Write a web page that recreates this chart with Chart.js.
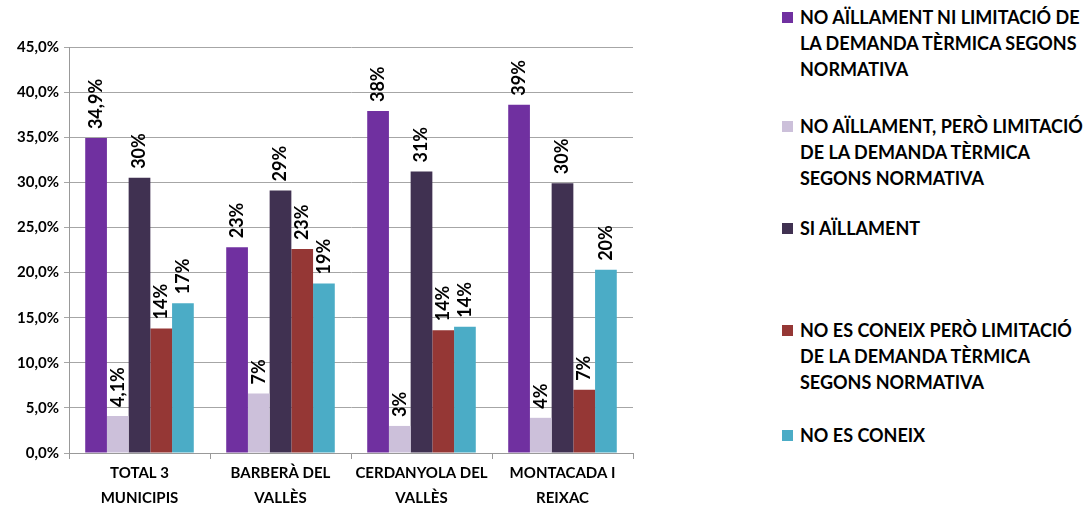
<!DOCTYPE html>
<html>
<head>
<meta charset="utf-8">
<script src="https://cdn.jsdelivr.net/npm/chart.js@4.4.0/dist/chart.umd.min.js"></script>
<style>
    body { margin: 0; background: #fff; font-family: Lato, sans-serif; }
    #wrap { position: absolute; left: 0; top: 0; width: 650px; height: 506px; }
    #legend { position: absolute; left: 782px; top: 0; width: 304px; }
    .leg-item { position: absolute; left: 0; font-weight: bold; font-size: 18px; line-height: 26px; color: #000; white-space: nowrap; }
    .leg-box { position: absolute; left: 0; top: 8px; width: 11px; height: 11px; }
    .leg-text { position: absolute; left: 18px; top: 0; }
</style>
</head>
<body>
<div id="wrap"><canvas id="chart"></canvas></div>
<div id="legend"></div>
<script>
const categories = [
    ['TOTAL 3', 'MUNICIPIS'],
    ['BARBERÀ DEL', 'VALLÈS'],
    ['CERDANYOLA DEL', 'VALLÈS'],
    ['MONTACADA I', 'REIXAC']
];

const seriesNames = [
    ['NO AÏLLAMENT NI LIMITACIÓ DE', 'LA DEMANDA TÈRMICA SEGONS', 'NORMATIVA'],
    ['NO AÏLLAMENT, PERÒ LIMITACIÓ', 'DE LA DEMANDA TÈRMICA', 'SEGONS NORMATIVA'],
    ['SI AÏLLAMENT'],
    ['NO ES CONEIX PERÒ LIMITACIÓ', 'DE LA DEMANDA TÈRMICA', 'SEGONS NORMATIVA'],
    ['NO ES CONEIX']
];

const seriesColors = ['#7030A0', '#CCC0DA', '#403151', '#953735', '#4BACC6'];

// values in %
const noAillNiLimit = [34.9, 22.8, 37.9, 38.6];
const noAillPeroLimit = [4.1, 6.6, 3.0, 3.9];
const siAill = [30.5, 29.1, 31.2, 29.9];
const noConeixPeroLimit = [13.8, 22.6, 13.6, 7.0];
const noConeix = [16.6, 18.8, 14.0, 20.3];

// data labels as printed
const lblNoAillNiLimit = ['34,9%', '23%', '38%', '39%'];
const lblNoAillPeroLimit = ['4,1%', '7%', '3%', '4%'];
const lblSiAill = ['30%', '29%', '31%', '30%'];
const lblNoConeixPeroLimit = ['14%', '23%', '14%', '7%'];
const lblNoConeix = ['17%', '19%', '14%', '20%'];

const yTicks = [0, 5, 10, 15, 20, 25, 30, 35, 40, 45];

const allValues = [noAillNiLimit, noAillPeroLimit, siAill, noConeixPeroLimit, noConeix];
const allLabels = [lblNoAillNiLimit, lblNoAillPeroLimit, lblSiAill, lblNoConeixPeroLimit, lblNoConeix];

// rotated value labels above each bar
const barLabels = {
    id: 'barLabels',
    afterDatasetsDraw(chart) {
        const ctx = chart.ctx;
        ctx.save();
        ctx.font = 'bold 18px Lato';
        ctx.fillStyle = '#000';
        ctx.textAlign = 'left';
        ctx.textBaseline = 'middle';
        chart.data.datasets.forEach((ds, i) => {
            chart.getDatasetMeta(i).data.forEach((bar, j) => {
                ctx.save();
                ctx.translate(bar.x, bar.y - 9);
                ctx.rotate(-Math.PI / 2);
                ctx.fillText(allLabels[i][j], 0, 0);
                ctx.restore();
            });
        });
        ctx.restore();
    }
};

new Chart(document.getElementById('chart'), {
    type: 'bar',
    data: {
        labels: categories,
        datasets: allValues.map((vals, i) => ({
            label: seriesNames[i].join(' '),
            data: vals,
            backgroundColor: seriesColors[i],
            borderWidth: 0,
            barPercentage: 1,
            categoryPercentage: 0.77
        }))
    },
    options: {
        responsive: true,
        maintainAspectRatio: false,
        animation: false,
        layout: { padding: { top: 47, right: 17, left: 0, bottom: 0 } },
        scales: {
            x: {
                grid: { offset: true, drawOnChartArea: false, color: '#999', tickLength: 6 },
                border: { color: '#999' },
                ticks: { color: '#000', font: { family: 'Lato', weight: 'bold', size: 15, lineHeight: 1.65 }, maxRotation: 0, padding: 2 },
                afterFit(scale) { scale.height = 53; }
            },
            y: {
                min: 0,
                max: 45,
                afterBuildTicks(scale) { scale.ticks = yTicks.map(v => ({ value: v })); },
                grid: { color: '#A6A6A6', tickLength: 5 },
                border: { color: '#999' },
                ticks: {
                    color: '#000',
                    font: { family: 'Lato', weight: 'bold', size: 15 },
                    padding: 5,
                    callback: v => v.toFixed(1).replace('.', ',') + '%'
                },
                afterFit(scale) { scale.width = 69; }
            }
        },
        plugins: {
            legend: { display: false },
            tooltip: { enabled: false }
        }
    },
    plugins: [barLabels]
});

// legend on the right
const legendTops = [4, 113, 215, 317, 422];
const legend = document.getElementById('legend');
seriesNames.forEach((lines, i) => {
    const item = document.createElement('div');
    item.className = 'leg-item';
    item.style.top = legendTops[i] + 'px';
    item.innerHTML = `<div class="leg-box" style="background:${seriesColors[i]}"></div>` +
        `<div class="leg-text">${lines.join('<br>')}</div>`;
    legend.appendChild(item);
});
</script>
</body>
</html>
